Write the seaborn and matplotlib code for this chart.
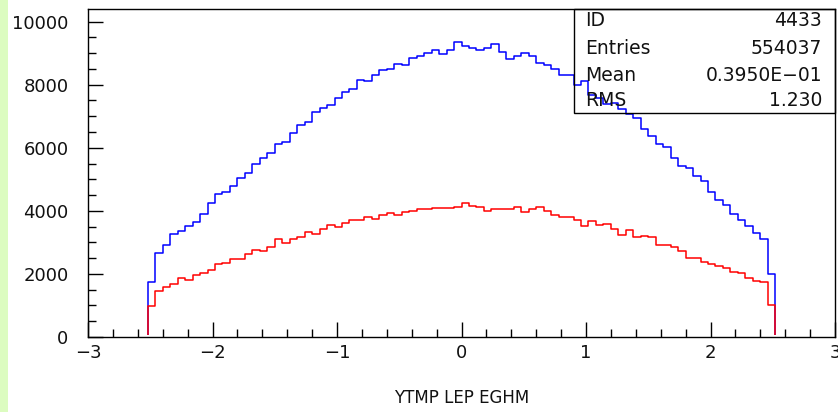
import numpy as np
import pandas as pd
import matplotlib
matplotlib.use("Agg")
import matplotlib.pyplot as plt
import seaborn as sns
from matplotlib.ticker import MultipleLocator
from matplotlib.patches import Rectangle

# ---- data ----
bin_lo = -2.52          # lower edge of first non-empty bin
bin_width = 0.06        # histogram: 100 bins from -3 to 3
hist_range = (-3.0, 3.0)

blue_counts = [
    1729, 2660, 2914, 3253, 3369, 3508, 3655, 3899, 4249, 4545,
    4598, 4789, 5033, 5202, 5490, 5688, 5837, 6123, 6177, 6473,
    6717, 6812, 7130, 7257, 7353, 7563, 7776, 7871, 8157, 8104,
    8316, 8465, 8507, 8666, 8612, 8856, 8910, 9005, 9101, 8961,
    9110, 9355, 9227, 9163, 9110, 9163, 9291, 9047, 8815, 8920,
    9005, 8920, 8697, 8624, 8507, 8306, 8306, 7989, 8116, 7671,
    7563, 7372, 7404, 7230, 7080, 6950, 6590, 6378, 6114, 6038,
    5688, 5434, 5370, 5107, 4948, 4608, 4344, 4185, 3899, 3708,
    3527, 3286, 3105, 1983,
]
red_counts = [
    985, 1474, 1570, 1675, 1865, 1811, 1970, 2034, 2120, 2310,
    2332, 2459, 2459, 2628, 2755, 2713, 2860, 3105, 2966, 3105,
    3168, 3316, 3263, 3411, 3549, 3475, 3623, 3697, 3697, 3794,
    3750, 3857, 3941, 3857, 3952, 4004, 4048, 4048, 4080, 4080,
    4080, 4131, 4260, 4164, 4112, 4004, 4058, 4058, 4058, 4112,
    3963, 4058, 4112, 3994, 3867, 3813, 3813, 3708, 3528, 3687,
    3549, 3581, 3411, 3232, 3390, 3158, 3210, 3158, 2913, 2913,
    2841, 2714, 2510, 2491, 2383, 2310, 2256, 2173, 2066, 2015,
    1856, 1780, 1729, 1030,
]

x_ticks = [-3, -2, -1, 0, 1, 2, 3]
y_ticks = [0, 2000, 4000, 6000, 8000, 10000]
y_max = 10400
x_label = "YTMP LEP EGHM"
stats_labels = ["ID", "Entries", "Mean", "RMS"]
stats_values = ["4433", "554037", "0.3950E\u221201", "1.230"]

# ---- figure ----
sns.set_style("white")
plt.rcParams["font.family"] = ["DejaVu Sans"]

W, H = 838, 412
fig = plt.figure(figsize=(W / 100, H / 100), dpi=100)
fig.patch.set_facecolor("white")
fig.patches.append(Rectangle((0, 0), 8 / W, 1, transform=fig.transFigure,
                             facecolor="#dcfcc0", edgecolor="none", zorder=0))

ax_l, ax_r, ax_t, ax_b = 88, 835, 9, 337
ax = fig.add_axes([ax_l / W, 1 - ax_b / H, (ax_r - ax_l) / W, (ax_b - ax_t) / H])
ax.set_facecolor("white")

centers = bin_lo + bin_width * (np.arange(len(blue_counts)) + 0.5)
df_blue = pd.DataFrame({"x": centers, "w": np.asarray(blue_counts, float)})
df_red = pd.DataFrame({"x": centers, "w": np.asarray(red_counts, float)})

for df, col, z in [(df_blue, "#0000ff", 2.0), (df_red, "#ff0000", 2.1)]:
    sns.histplot(data=df, x="x", weights="w", binwidth=bin_width,
                 binrange=hist_range, element="step", fill=False,
                 color=col, linewidth=1.1, ax=ax, zorder=z)

# hide the empty (zero-height) parts of the outlines under the bottom axis
clip = Rectangle((0, 0.005), 1, 1, transform=ax.transAxes,
                 facecolor="none", edgecolor="none")
for ln in ax.lines:
    ln.set_clip_path(clip)

ax.set_xlim(*hist_range)
ax.set_ylim(0, y_max)
ax.set_xticks(x_ticks)
ax.set_yticks(y_ticks)
ax.xaxis.set_minor_locator(MultipleLocator(0.2))
ax.yaxis.set_minor_locator(MultipleLocator(500))
ax.tick_params(axis="both", which="both", bottom=True, left=True,
               top=False, right=False)
ax.tick_params(axis="both", which="major", direction="in", length=10.5,
               width=1.0, color="black", labelsize=13, labelcolor="#111111")
ax.tick_params(axis="both", which="minor", direction="in", length=5.5,
               width=1.0, color="black")
ax.tick_params(axis="y", which="both", pad=14)
ax.tick_params(axis="x", which="both", pad=5)
for s in ax.spines.values():
    s.set_color("black")
    s.set_linewidth(1.0)
    s.set_visible(True)
    s.set_zorder(5)

ax.set_ylabel("")
ax.set_xlabel(x_label, fontsize=12, color="#111111")
ax.xaxis.label.set_va("center")
ax.xaxis.set_label_coords(0.5, -(398 - ax_b) / (ax_b - ax_t))

# ---- statistics box ----
bx0, by0, bx1, by1 = 574, 9, 835, 113
fig.patches.append(Rectangle((bx0 / W, 1 - by1 / H), (bx1 - bx0) / W, (by1 - by0) / H,
                             transform=fig.transFigure, facecolor="none",
                             edgecolor="black", linewidth=1.0, zorder=3))
rows_y = [21, 48.5, 75.5, 101]
for lab, val, ry in zip(stats_labels, stats_values, rows_y):
    fig.text(585 / W, 1 - ry / H, lab, fontsize=13.5, ha="left", va="center",
             color="#111111", zorder=1)
    fig.text(822 / W, 1 - ry / H, val, fontsize=13.5, ha="right", va="center",
             color="#111111", zorder=1)

fig.savefig("out.png", dpi=100)
